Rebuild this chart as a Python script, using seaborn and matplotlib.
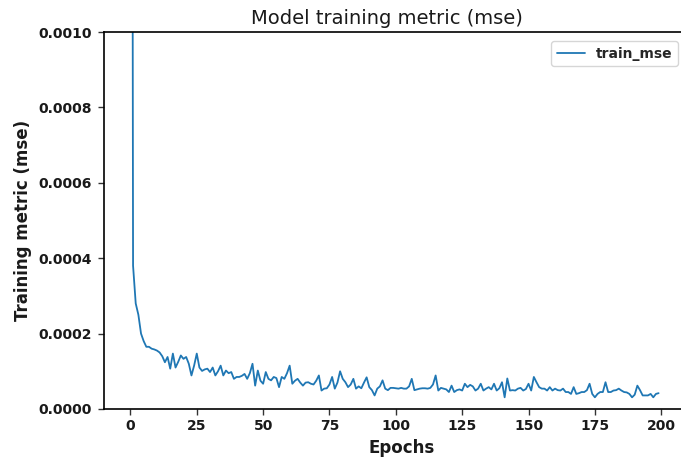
import numpy as np
import pandas as pd
import matplotlib
matplotlib.use("Agg")
import matplotlib.pyplot as plt
from matplotlib.ticker import FormatStrFormatter
import seaborn as sns

# training metric (mse) per epoch, in units of 1e-5
train_mse_e5 = [
    500, 38, 28, 25, 20, 18, 16.5, 16.5, 16, 15.8,
    15.5, 15, 14, 12.4, 13.8, 10.7, 14.7, 11, 12.5, 14.2,
    13.3, 13.8, 12, 8.9, 11.5, 14.7, 11, 10.1, 10.5, 10.7,
    9.8, 11, 8.9, 10, 11.5, 8.9, 10.2, 9.5, 9.8, 8.0,
    8.5, 8.5, 8.8, 9.3, 8.0, 9.5, 12.0, 6.2, 10.2, 7.5,
    6.7, 9.8, 8.0, 7.6, 8.5, 8.2, 5.8, 8.5, 8.0, 9.5,
    11.5, 6.7, 7.5, 8.0, 7.0, 6.2, 7.0, 7.1, 6.7, 6.5,
    7.5, 8.9, 4.9, 5.4, 5.5, 6.5, 8.5, 5.4, 7.0, 10.0,
    8.0, 7.1, 5.8, 6.5, 8.0, 5.4, 6.0, 5.5, 7.0, 8.4,
    5.8, 5.0, 3.6, 5.4, 6.0, 7.6, 5.4, 5.0, 5.6, 5.6,
    5.5, 5.4, 5.6, 5.4, 5.4, 6.0, 8.0, 5.0, 5.2, 5.4,
    5.5, 5.5, 5.4, 5.6, 6.5, 8.9, 4.9, 5.6, 5.4, 5.2,
    4.5, 6.2, 4.5, 5.0, 5.2, 4.9, 6.7, 5.8, 6.4, 6.0,
    4.9, 5.4, 6.7, 4.9, 5.4, 5.8, 5.2, 6.7, 4.9, 5.5,
    7.1, 3.1, 8.1, 4.9, 5.0, 4.9, 5.4, 5.6, 4.9, 5.3,
    6.7, 4.9, 8.5, 7.1, 5.8, 5.4, 5.4, 4.9, 5.8, 4.9,
    5.4, 5.0, 4.9, 5.4, 4.5, 4.5, 4.0, 5.8, 4.0, 4.2,
    4.5, 4.5, 5.0, 6.7, 4.0, 3.1, 4.0, 4.5, 4.5, 7.1,
    4.5, 4.5, 4.9, 5.0, 5.4, 4.9, 4.5, 4.4, 4.0, 3.1,
    3.8, 6.2, 5.0, 3.6, 3.6, 3.6, 4.0, 3.1, 4.0, 4.2,
]
epochs = list(range(len(train_mse_e5)))
x_ticks = [0, 25, 50, 75, 100, 125, 150, 175, 200]
y_ticks = [0.0, 0.0002, 0.0004, 0.0006, 0.0008, 0.0010]

df = pd.DataFrame({"epoch": epochs,
                   "train_mse": [v * 1e-5 for v in train_mse_e5]})

sns.set_style("ticks")
plt.rcParams["font.family"] = ["DejaVu Sans"]

fig = plt.figure(figsize=(6.81, 4.62), dpi=100)
# axes run slightly past the right edge of the (cropped) figure
ax_w = 595
ax = fig.add_axes([104 / 681, 53 / 462, ax_w / 681, 377 / 462])

sns.lineplot(data=df, x="epoch", y="train_mse", ax=ax, color="#1f77b4",
             linewidth=1.3, label="train_mse")

px_per_epoch = 581 / 218.9
ax.set_ylim(0, 0.001)
ax.set_xlim(-9.95, -9.95 + ax_w / px_per_epoch)
ax.set_xticks(x_ticks)
ax.set_yticks(y_ticks)
ax.yaxis.set_major_formatter(FormatStrFormatter("%.4f"))
for lab in ax.get_xticklabels() + ax.get_yticklabels():
    lab.set_fontweight("bold")
    lab.set_fontsize(10)
    lab.set_color("#1a1a1a")
ax.tick_params(axis="both", length=4, width=1, color="#333333")
ax.tick_params(axis="y", pad=5)
for s in ax.spines.values():
    s.set_linewidth(1.2)
    s.set_color("black")

ax.set_title("Model training metric (mse)", fontsize=14, pad=6,
             x=(387 - 104) / ax_w, color="#1a1a1a")
ax.set_xlabel("Epochs", fontsize=12, fontweight="bold", color="#1a1a1a")
ax.set_ylabel("Training metric (mse)", fontsize=12, fontweight="bold",
              color="#1a1a1a")

leg = ax.legend(loc="upper right",
                bbox_to_anchor=((685 - 104) / ax_w, (409 - 34) / 377),
                prop={"weight": "bold", "size": 10}, frameon=True)
leg.get_frame().set_edgecolor("#cccccc")

fig.savefig("out.png", dpi=100)
